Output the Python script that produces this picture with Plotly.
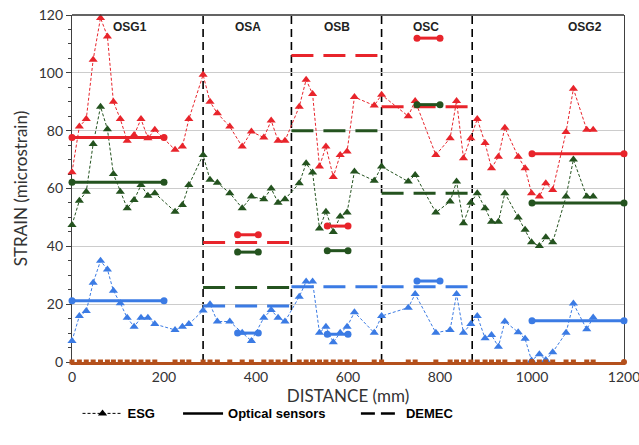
import plotly.graph_objects as go

# ---------------- data ----------------
esg_x = [0, 16, 31, 46, 62, 77, 90, 105, 120, 135,
         150, 165, 180, 224, 240, 254, 285, 300, 316, 343,
         370, 390, 417, 433, 448, 463, 494, 509, 523, 538,
         552, 568, 583, 598, 614, 657, 673, 731, 746, 791,
         822, 836, 851, 867, 881, 898, 912, 927, 941, 970,
         985, 999, 1016, 1030, 1045, 1074, 1090, 1119, 1133]

esg_red = [65.6, 81.4, 84, 104.5, 119, 112.6, 90, 84, 76.5, 78.5,
           84, 77.4, 80.3, 73.4, 74.5, 84, 99.3, 90, 86, 81.4,
           74.5, 79.7, 77.6, 83.5, 76.5, 76.5, 88.3, 97.6, 92.7, 67.6,
           74.5, 64, 71.6, 72.8, 91.6, 88.7, 92.4, 85, 90.3, 71.6,
           77.4, 90.3, 70.5, 77.4, 84, 75.7, 67, 71, 81, 71,
           67, 58.4, 57.2, 61.8, 59.5, 79.5, 94.5, 80.3, 80.3]

esg_green = [47.4, 55.8, 58.9, 75.4, 88.3, 80.5, 65, 58.9, 53.2, 56,
             61.2, 57.5, 58.4, 52, 54.3, 61.2, 71.6, 63, 62, 58.4,
             53.2, 57.2, 56.3, 60, 55.1, 56.3, 61.8, 68.7, 65.5, 46.2,
             52, 45, 50.3, 51.7, 65.9, 62.7, 67.6, 62.4, 64.7, 51.7,
             55.5, 62.4, 48, 55.1, 58.4, 53.2, 48.5, 48.5, 58.4, 50,
             45.7, 41.4, 40.1, 43.1, 41.4, 57.2, 70, 57.2, 57.2]

esg_blue = [7.3, 15.9, 17.6, 27.4, 35, 32, 24.6, 20.3, 15.3, 12.2,
            15.3, 15.3, 13.1, 11.1, 12.2, 13.1, 17.8, 20, 14, 14,
            10.1, 7.3, 15.3, 18, 15.3, 14, 22.6, 27.8, 27.8, 10.1,
            12.2, 6.8, 10.1, 12.2, 17.2, 10.1, 15.9, 18.8, 23.5, 10.1,
            11.1, 23.5, 10.1, 13.1, 15.9, 8.2, 9.3, 5.3, 14, 10.3,
            8, 0.5, 2.7, 0.7, 3.4, 10.1, 20.2, 11.3, 15.4]

esg_zero = [0] * len(esg_x)

# optical sensors: segments (start, end) per section
opt_sections = ["OSG1", "OSA", "OSB", "OSC", "OSG2"]
opt_start = [0, 360, 555, 750, 1000]
opt_end = [200, 405, 600, 800, 1200]
opt_red = [77.6, 44, 47, 112, 72]
opt_green = [62.2, 38, 38.5, 89, 55]
opt_blue = [21.2, 10, 9.6, 28, 14.3]
opt_zero = [0, 0, 0, 0, 0]

# DEMEC: segments per section
demec_start = [285, 477, 673]
demec_end = [477, 673, 870]
demec_red = [41.3, 106, 88.3]
demec_green = [25.8, 80, 58.4]
demec_blue = [19.4, 26, 26]

# section boundaries and labels
boundaries = [285, 477, 673, 870]
label_x = [126, 383, 576, 770, 1115]
label_text = ["OSG1", "OSA", "OSB", "OSC", "OSG2"]
label_y = 116

legend_names = ["ESG", "Optical sensors", "DEMEC"]

RED = "#e8242b"
GREEN = "#24531f"
BLUE = "#3b7be4"
BROWN = "#b4501c"

fig = go.Figure()

# section dividers
for b in boundaries:
    fig.add_shape(type="line", x0=b, x1=b, y0=0, y1=120, xref="x", yref="y",
                  line=dict(color="black", width=1.6, dash="8px,5px"), layer="below")

# top border
fig.add_shape(type="line", x0=0, x1=1, y0=1, y1=1, xref="paper", yref="paper",
              line=dict(color="#303030", width=1.6))


def add_esg(y, color):
    fig.add_trace(go.Scatter(x=esg_x, y=y, mode="lines+markers",
                             line=dict(color=color, width=1, dash="3px,2px"),
                             marker=dict(symbol="triangle-up", size=8, color=color),
                             cliponaxis=False,
                             showlegend=False, hoverinfo="skip"))


def add_opt(ys, color, size=7):
    for s, e, v in zip(opt_start, opt_end, ys):
        fig.add_trace(go.Scatter(x=[s, e], y=[v, v], mode="lines+markers",
                                 line=dict(color=color, width=3),
                                 marker=dict(symbol="circle", size=size, color=color),
                                 cliponaxis=False,
                                 showlegend=False, hoverinfo="skip"))


def add_demec(ys, color):
    for s, e, v in zip(demec_start, demec_end, ys):
        fig.add_trace(go.Scatter(x=[s, e], y=[v, v], mode="lines",
                                 line=dict(color=color, width=3, dash="22px,10px"),
                                 showlegend=False, hoverinfo="skip"))


add_demec(demec_red, RED)
add_demec(demec_green, GREEN)
add_demec(demec_blue, BLUE)
add_esg(esg_red, RED)
add_esg(esg_green, GREEN)
add_esg(esg_blue, BLUE)
add_opt(opt_red, RED)
add_opt(opt_green, GREEN)
add_opt(opt_blue, BLUE)

# zero baseline series (markers along y = 0)
fig.add_trace(go.Scatter(x=esg_x, y=esg_zero, mode="markers",
                         marker=dict(symbol="square", size=5, color=BROWN),
                         cliponaxis=False, showlegend=False, hoverinfo="skip"))
fig.add_trace(go.Scatter(x=[opt_start[-1], opt_end[-1]], y=[opt_zero[-1], opt_zero[-1]],
                         mode="markers", marker=dict(symbol="circle", size=6, color=BROWN),
                         cliponaxis=False, showlegend=False, hoverinfo="skip"))

# legend entries
pad = "\u00a0"
fig.add_trace(go.Scatter(x=[None], y=[None], mode="lines+markers",
                         name="<b>%s</b>%s" % (legend_names[0], pad * 5),
                         line=dict(color="black", width=1, dash="3px,2px"),
                         marker=dict(symbol="triangle-up", size=8, color="black")))
fig.add_trace(go.Scatter(x=[None], y=[None], mode="lines",
                         name="<b>%s</b>%s" % (legend_names[1], pad * 7),
                         line=dict(color="black", width=2.5)))
fig.add_trace(go.Scatter(x=[None], y=[None], mode="lines",
                         name="<b>%s</b>" % legend_names[2],
                         line=dict(color="black", width=2.5, dash="14px,6px")))

# section labels
for lx, lt in zip(label_x, label_text):
    fig.add_annotation(x=lx, y=label_y, text="<b>%s</b>" % lt, showarrow=False,
                       font=dict(family="Liberation Sans, Arial", size=12, color="#222"))

fig.update_layout(
    width=639, height=445,
    margin=dict(l=72, r=15, t=15, b=83, autoexpand=False),
    plot_bgcolor="white", paper_bgcolor="white",
    font=dict(family="Lato, Carlito, sans-serif", color="#333"),
    legend=dict(orientation="h", x=0.01, xanchor="left", y=-0.105, yanchor="top",
                font=dict(family="Liberation Sans, Arial", size=13, color="black"),
                itemwidth=40, traceorder="normal"),
    xaxis=dict(range=[0, 1200], tickvals=[0, 200, 400, 600, 800, 1000, 1200],
               showgrid=False, zeroline=False, showline=True, mirror=False,
               linecolor=BROWN, linewidth=3, ticks="", layer="below traces",
               ticklabeloverflow="allow", automargin=False,
               tickfont=dict(size=14, color="#333"),
               title=dict(text="DISTANCE (mm)", font=dict(size=17, color="#333"), standoff=2)),
    yaxis=dict(range=[0, 120], tickvals=[0, 20, 40, 60, 80, 100, 120],
               showgrid=True, gridcolor="#cccccc", gridwidth=1,
               zeroline=False, showline=True, mirror=True,
               linecolor="#404040", linewidth=1.2, ticks="outside", ticklen=5,
               tickcolor="#404040", layer="below traces", automargin=False,
               minor=dict(dtick=5, ticks="outside", ticklen=3, tickcolor="#404040", showgrid=False),
               tickfont=dict(size=14, color="#333"),
               title=dict(text="STRAIN (microstrain)", font=dict(size=17, color="#333"), standoff=6)),
)

fig.write_html("out.html")
